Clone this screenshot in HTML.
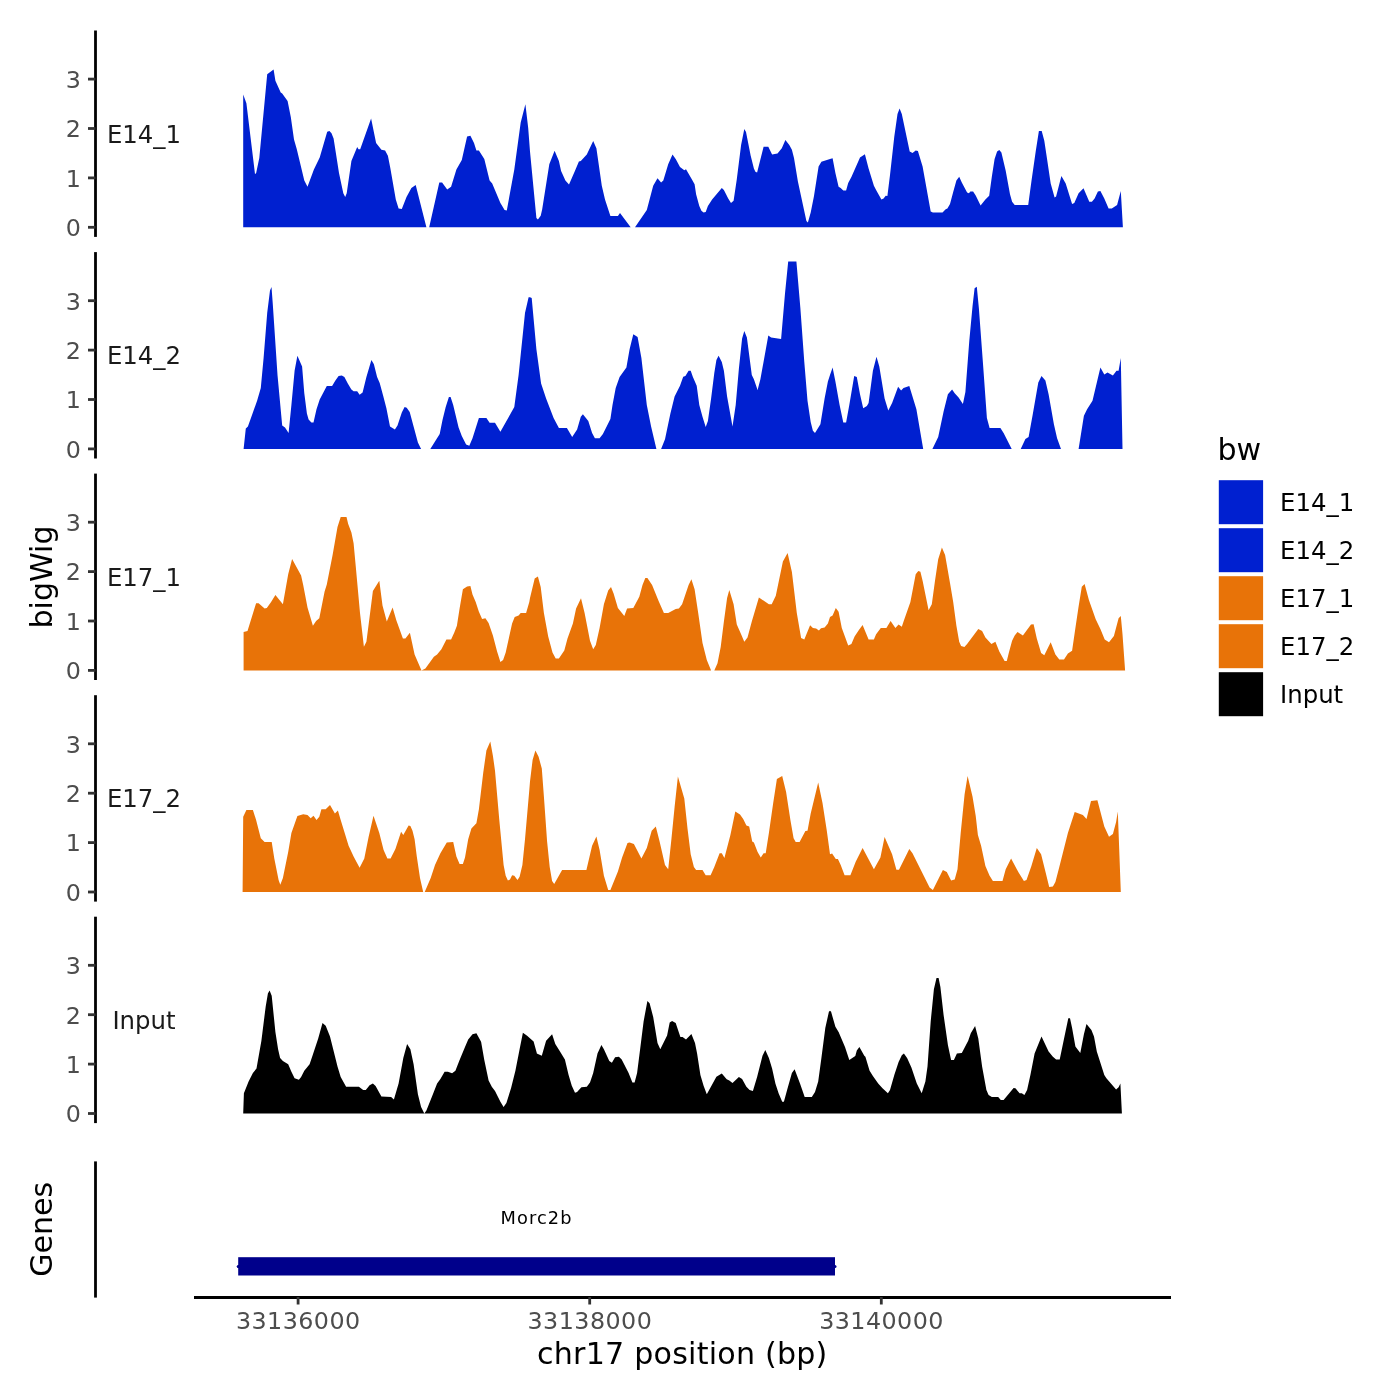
<!DOCTYPE html>
<html><head><meta charset="utf-8"><title>bigWig tracks</title>
<style>
html,body{margin:0;padding:0;background:#fff;}
svg{display:block;}
text{font-family:"DejaVu Sans","Liberation Sans",sans-serif;}
.tk{font-size:23.8px;fill:#4D4D4D;}
.lb{font-size:24.4px;fill:#1A1A1A;}
.lg{font-size:24.4px;fill:#000;}
.ti{font-size:30.1px;fill:#000;}
</style></head><body>
<svg width="1400" height="1400" viewBox="0 0 1400 1400">
<rect width="1400" height="1400" fill="#fff"/>

<path d="M243.2 227.3 L243.2 94.6 L246.4 103.2 L255.0 173.9 L256.1 173.3 L259.3 157.9 L267.2 74.3 L273.6 69.4 L275.4 80.7 L280.7 92.5 L282.2 93.6 L287.6 101.1 L290.8 117.1 L294.0 139.6 L296.8 149.3 L304.3 180.4 L307.5 186.8 L313.9 169.6 L319.7 157.4 L327.2 131.7 L329.4 130.9 L331.5 133.2 L333.6 138.6 L339.0 172.9 L343.3 193.2 L345.2 197.1 L346.7 193.2 L351.4 161.1 L357.2 147.1 L358.5 149.3 L360.2 149.3 L371.1 118.6 L376.1 142.9 L381.4 149.7 L385.1 150.4 L387.9 155.7 L390.4 168.6 L395.8 199.6 L398.6 208.6 L401.8 208.9 L406.5 197.1 L411.4 187.9 L415.7 185.1 L426.4 227.3 L429.2 227.3 L439.3 182.5 L442.1 182.5 L447.2 189.6 L451.1 186.8 L456.4 169.6 L461.8 160.0 L467.1 136.4 L470.4 135.8 L474.0 142.9 L476.4 150.4 L478.9 150.4 L484.3 158.9 L489.6 180.4 L492.2 183.6 L500.4 202.9 L504.6 209.9 L506.8 210.4 L514.3 169.6 L520.7 122.5 L525.4 104.3 L528.2 127.9 L530.0 151.4 L536.4 217.9 L537.9 219.6 L540.7 215.7 L542.2 209.3 L549.3 164.3 L554.6 150.8 L558.9 161.1 L561.1 171.1 L565.4 180.4 L569.0 184.6 L575.0 170.7 L578.9 161.5 L580.8 161.1 L586.8 154.6 L593.2 141.1 L596.4 148.2 L601.8 185.7 L605.0 199.6 L610.4 216.1 L617.9 216.1 L620.0 213.1 L630.7 227.3 L635.0 227.3 L646.8 209.9 L653.2 185.7 L657.5 178.2 L661.1 182.5 L663.3 180.4 L668.2 164.3 L672.5 154.6 L675.7 158.9 L680.0 166.9 L684.3 170.3 L686.0 169.2 L691.8 179.3 L694.6 184.2 L696.1 194.3 L699.3 206.1 L701.4 210.8 L703.6 212.5 L705.7 212.1 L707.9 206.1 L712.1 199.6 L721.8 187.9 L723.9 190.0 L728.2 198.6 L731.0 202.9 L733.6 200.7 L736.8 179.3 L741.1 145.0 L744.3 128.9 L746.0 132.1 L750.7 155.7 L753.9 168.6 L755.4 171.8 L757.1 172.4 L763.6 146.7 L768.3 146.7 L772.1 154.6 L777.5 153.6 L781.8 148.2 L785.4 140.1 L789.3 145.0 L791.9 149.7 L794.0 157.9 L797.9 181.4 L806.4 221.1 L807.9 222.6 L810.7 212.5 L813.9 196.4 L818.6 166.4 L821.4 161.7 L830.0 159.1 L832.6 158.3 L835.4 172.9 L838.6 186.8 L840.7 187.9 L843.3 190.6 L846.1 190.6 L848.2 183.1 L851.4 177.1 L860.0 157.4 L864.9 154.2 L868.6 168.6 L873.9 185.7 L876.1 190.0 L881.4 199.6 L883.6 198.6 L885.7 195.8 L887.4 196.0 L890.0 175.0 L894.3 136.4 L897.5 113.9 L899.6 108.6 L901.8 113.9 L909.7 151.4 L912.5 153.1 L915.7 150.4 L917.9 151.0 L922.6 166.4 L930.7 211.4 L932.9 212.5 L942.5 212.5 L945.7 209.3 L947.4 208.6 L950.0 203.9 L953.2 192.1 L956.4 180.4 L959.2 176.7 L961.8 182.5 L967.1 192.6 L968.9 193.2 L970.4 191.5 L973.1 191.5 L975.7 195.4 L980.6 205.4 L985.4 199.6 L989.2 195.8 L991.8 177.1 L994.6 158.9 L997.1 151.4 L999.3 149.9 L1001.4 152.5 L1005.7 170.7 L1010.0 194.3 L1012.1 201.8 L1014.7 205.0 L1028.2 205.0 L1031.4 181.4 L1035.7 151.4 L1038.9 131.1 L1041.7 131.1 L1044.3 140.7 L1047.5 162.1 L1050.7 183.6 L1054.6 197.5 L1056.1 196.4 L1061.4 176.1 L1065.7 183.6 L1072.1 203.9 L1074.3 202.9 L1078.6 193.2 L1083.5 188.3 L1089.3 201.8 L1091.9 201.8 L1094.6 198.6 L1097.9 191.5 L1100.4 191.1 L1104.3 198.6 L1108.6 208.6 L1111.8 208.6 L1117.1 205.0 L1120.8 191.1 L1122.9 227.3 Z" fill="#0020D0"/>
<line x1="95.5" x2="95.5" y1="30.5" y2="236.9" stroke="#000" stroke-width="2.8"/>
<line x1="88" x2="95.5" y1="227.3" y2="227.3" stroke="#333" stroke-width="2.8"/>
<text class="tk" x="81" y="236.1" text-anchor="end">0</text>
<line x1="88" x2="95.5" y1="177.9" y2="177.9" stroke="#333" stroke-width="2.8"/>
<text class="tk" x="81" y="186.7" text-anchor="end">1</text>
<line x1="88" x2="95.5" y1="128.5" y2="128.5" stroke="#333" stroke-width="2.8"/>
<text class="tk" x="81" y="137.3" text-anchor="end">2</text>
<line x1="88" x2="95.5" y1="79.1" y2="79.1" stroke="#333" stroke-width="2.8"/>
<text class="tk" x="81" y="87.9" text-anchor="end">3</text>
<text class="lb" x="144" y="142.7" text-anchor="middle">E14_1</text>
<path d="M243.6 448.9 L245.8 428.6 L247.9 426.4 L252.9 412.5 L257.1 400.7 L260.8 387.9 L263.6 357.9 L267.2 312.9 L270.0 290.4 L271.5 287.1 L272.8 304.3 L277.5 375.0 L282.2 425.4 L285.0 427.5 L288.6 432.9 L291.4 405.0 L294.6 370.7 L297.4 355.7 L302.1 366.4 L304.3 393.2 L306.9 413.6 L308.6 419.6 L311.4 422.6 L313.5 422.6 L316.5 409.3 L319.7 399.6 L326.8 386.1 L332.1 386.1 L335.4 380.4 L338.6 376.1 L341.8 375.6 L344.4 377.1 L347.8 383.6 L351.4 389.4 L353.6 391.3 L357.2 391.3 L359.6 394.7 L362.6 392.6 L366.4 377.1 L371.4 360.0 L373.9 364.3 L377.1 377.1 L379.7 383.1 L383.1 395.4 L386.4 408.2 L390.0 426.4 L394.9 429.6 L397.5 425.4 L401.8 412.5 L404.6 407.1 L406.7 407.8 L409.7 411.9 L413.6 426.4 L417.9 442.5 L421.1 448.9 L430.3 448.9 L439.7 433.9 L442.5 420.0 L445.7 407.1 L448.9 396.9 L450.6 396.9 L453.2 405.0 L458.6 427.5 L461.8 436.1 L466.1 444.6 L469.3 445.7 L472.5 438.2 L478.9 417.9 L486.4 417.9 L489.6 422.8 L495.0 422.8 L500.4 431.8 L514.3 407.1 L518.6 375.0 L525.0 312.9 L528.6 297.2 L530.0 297.2 L531.7 297.9 L536.4 349.3 L541.1 383.6 L546.1 398.6 L553.6 417.9 L558.9 428.1 L566.9 428.1 L572.2 437.1 L577.1 429.6 L580.8 416.8 L582.9 414.2 L588.3 421.1 L592.1 432.9 L594.9 438.2 L599.6 438.2 L602.9 433.9 L610.4 418.9 L612.5 405.0 L615.7 387.9 L619.6 377.1 L626.4 367.5 L629.6 349.3 L633.3 334.3 L637.6 337.1 L641.4 357.9 L646.8 405.0 L651.1 426.4 L656.4 448.9 L661.1 448.9 L665.0 439.3 L670.4 413.6 L674.6 396.4 L680.0 385.7 L683.2 376.7 L685.4 376.1 L688.6 370.7 L690.7 370.7 L692.9 377.1 L696.7 385.7 L699.3 405.0 L702.5 416.8 L705.7 427.1 L707.9 421.1 L711.1 398.6 L714.3 372.9 L716.4 360.0 L718.6 355.7 L721.8 362.1 L723.9 370.7 L727.1 396.4 L732.5 426.4 L735.7 405.0 L738.9 368.6 L742.1 338.6 L744.3 331.1 L746.9 337.5 L751.8 375.0 L753.9 379.3 L757.6 390.0 L760.4 379.3 L768.3 335.4 L771.1 337.5 L781.1 339.0 L785.0 293.6 L788.2 261.4 L796.4 261.4 L800.4 308.6 L804.3 362.1 L807.5 400.7 L810.7 422.1 L812.9 430.7 L815.0 432.9 L820.4 424.3 L824.6 398.6 L827.9 381.4 L830.0 375.0 L832.6 367.5 L835.4 381.4 L839.6 405.0 L843.3 422.6 L846.1 422.6 L849.3 405.0 L854.2 376.1 L856.8 377.1 L860.0 394.3 L863.2 408.2 L866.9 406.1 L868.6 402.9 L872.9 370.7 L876.5 356.8 L879.3 366.4 L884.6 398.6 L888.3 410.4 L892.1 402.9 L898.1 386.8 L901.1 390.4 L903.5 387.9 L909.3 386.1 L912.5 396.4 L916.4 409.3 L923.2 448.9 L932.4 448.9 L938.2 437.1 L943.6 411.4 L947.9 394.3 L952.1 389.4 L954.7 393.2 L958.6 397.5 L962.9 403.9 L965.4 392.1 L969.3 340.7 L972.5 306.4 L974.6 288.2 L976.8 286.7 L978.9 308.6 L983.2 366.4 L986.9 417.9 L989.6 428.1 L1000.4 428.1 L1003.6 432.9 L1011.7 448.9 L1020.7 448.9 L1025.4 438.9 L1028.6 437.1 L1032.5 415.7 L1038.3 382.5 L1041.5 376.1 L1045.4 380.4 L1048.6 394.3 L1053.9 424.3 L1057.1 438.2 L1061.0 448.9 L1078.6 448.9 L1083.9 415.7 L1087.1 409.3 L1092.5 400.7 L1100.4 367.5 L1104.3 374.6 L1107.5 372.4 L1112.9 375.6 L1116.5 370.7 L1118.6 370.7 L1120.8 357.9 L1122.5 448.9 Z" fill="#0020D0"/>
<line x1="95.5" x2="95.5" y1="252.1" y2="458.5" stroke="#000" stroke-width="2.8"/>
<line x1="88" x2="95.5" y1="448.9" y2="448.9" stroke="#333" stroke-width="2.8"/>
<text class="tk" x="81" y="457.7" text-anchor="end">0</text>
<line x1="88" x2="95.5" y1="399.5" y2="399.5" stroke="#333" stroke-width="2.8"/>
<text class="tk" x="81" y="408.3" text-anchor="end">1</text>
<line x1="88" x2="95.5" y1="350.1" y2="350.1" stroke="#333" stroke-width="2.8"/>
<text class="tk" x="81" y="358.9" text-anchor="end">2</text>
<line x1="88" x2="95.5" y1="300.7" y2="300.7" stroke="#333" stroke-width="2.8"/>
<text class="tk" x="81" y="309.5" text-anchor="end">3</text>
<text class="lb" x="144" y="364.2" text-anchor="middle">E14_2</text>
<path d="M243.6 670.4 L243.6 632.1 L247.5 631.1 L256.1 603.2 L258.6 603.2 L264.6 608.6 L266.8 608.1 L271.1 602.1 L275.4 595.1 L282.9 604.3 L288.2 574.3 L292.1 558.9 L301.1 575.4 L303.2 585.0 L307.5 607.5 L312.9 625.7 L316.1 621.0 L319.3 618.2 L324.6 591.4 L326.8 584.4 L332.6 555.0 L337.5 527.1 L340.7 516.9 L346.5 516.9 L348.2 523.9 L351.4 532.5 L353.6 543.2 L355.7 565.7 L360.0 612.9 L363.9 646.7 L366.4 641.8 L369.6 617.1 L372.9 591.0 L379.3 580.7 L382.5 605.4 L386.8 621.4 L392.6 607.5 L396.4 620.4 L402.9 638.6 L405.4 638.6 L409.9 632.8 L414.6 654.6 L421.5 670.4 L425.4 668.6 L433.9 656.8 L437.1 654.6 L441.4 649.3 L446.4 639.6 L451.1 639.6 L454.3 632.6 L456.9 625.7 L459.6 608.6 L462.9 589.3 L467.1 586.5 L470.4 586.1 L472.5 594.6 L475.7 602.1 L478.9 611.8 L482.1 618.9 L485.4 618.2 L488.6 623.1 L492.9 635.4 L497.1 651.4 L500.4 662.1 L503.1 660.0 L505.7 652.5 L512.1 623.6 L514.7 617.1 L518.6 615.6 L520.7 612.9 L526.1 612.9 L529.3 602.1 L530.0 597.9 L534.7 578.6 L537.9 576.4 L540.7 587.1 L543.9 612.9 L548.2 636.4 L552.5 652.5 L555.7 658.5 L558.9 658.5 L564.3 650.4 L567.5 638.6 L572.9 623.6 L576.1 608.6 L581.0 598.3 L584.6 612.9 L590.0 640.7 L593.2 649.3 L595.8 645.0 L599.6 627.9 L603.9 604.3 L608.2 590.4 L611.0 587.1 L613.6 593.6 L617.9 608.1 L624.3 616.1 L627.1 608.6 L633.3 608.1 L639.3 596.8 L642.5 585.0 L645.3 578.1 L647.4 578.1 L652.1 585.0 L658.6 601.1 L663.9 612.9 L668.2 612.9 L675.7 609.0 L678.9 608.6 L682.1 604.3 L688.6 585.0 L691.4 579.2 L694.6 589.3 L698.2 612.9 L702.5 642.9 L706.8 660.0 L711.1 670.4 L714.3 670.4 L717.5 663.2 L720.7 647.1 L723.9 621.4 L727.1 597.9 L729.3 589.9 L733.6 604.3 L736.8 624.6 L741.1 634.3 L744.3 641.8 L747.5 637.5 L751.8 621.4 L758.9 597.4 L768.9 604.3 L771.7 604.3 L775.8 595.7 L782.9 561.4 L787.6 552.9 L791.9 572.1 L796.8 612.9 L801.1 638.1 L804.3 639.6 L810.1 625.3 L812.9 627.9 L816.1 628.5 L818.9 630.6 L821.0 628.3 L824.6 627.4 L827.9 623.6 L830.0 617.1 L832.6 615.6 L835.8 608.1 L838.6 611.8 L841.8 627.9 L848.2 645.4 L851.4 643.9 L854.6 636.4 L858.9 630.0 L862.6 625.1 L868.6 639.6 L873.9 639.6 L876.1 634.3 L880.8 627.9 L886.4 627.9 L890.6 621.0 L895.4 627.9 L898.6 624.6 L901.8 626.8 L903.9 620.4 L910.4 602.1 L915.7 574.3 L918.3 571.1 L920.4 571.7 L922.6 580.7 L928.6 610.3 L931.8 604.3 L935.0 580.7 L938.2 559.3 L941.9 547.5 L945.1 555.0 L950.0 582.9 L953.2 602.1 L956.4 625.7 L959.2 641.8 L961.1 646.1 L964.4 647.1 L967.1 643.9 L978.3 628.9 L982.1 631.1 L985.4 637.5 L991.4 643.9 L995.4 641.8 L999.3 651.4 L1004.6 661.1 L1006.8 661.1 L1008.9 652.5 L1012.1 640.7 L1014.7 635.4 L1017.5 632.1 L1022.9 635.4 L1031.0 624.6 L1033.6 624.2 L1036.8 638.6 L1041.1 653.1 L1044.3 655.3 L1050.7 642.2 L1055.4 654.6 L1059.3 659.4 L1064.0 659.4 L1067.9 653.6 L1072.1 650.8 L1075.4 627.9 L1078.6 606.4 L1081.8 586.7 L1084.6 583.9 L1088.9 600.0 L1095.7 619.3 L1100.4 628.9 L1104.7 639.6 L1109.0 642.2 L1113.9 636.0 L1118.6 618.2 L1120.8 616.1 L1122.5 634.3 L1125.1 670.4 Z" fill="#E87308"/>
<line x1="95.5" x2="95.5" y1="473.6" y2="680.0" stroke="#000" stroke-width="2.8"/>
<line x1="88" x2="95.5" y1="670.4" y2="670.4" stroke="#333" stroke-width="2.8"/>
<text class="tk" x="81" y="679.2" text-anchor="end">0</text>
<line x1="88" x2="95.5" y1="621.0" y2="621.0" stroke="#333" stroke-width="2.8"/>
<text class="tk" x="81" y="629.8" text-anchor="end">1</text>
<line x1="88" x2="95.5" y1="571.6" y2="571.6" stroke="#333" stroke-width="2.8"/>
<text class="tk" x="81" y="580.4" text-anchor="end">2</text>
<line x1="88" x2="95.5" y1="522.2" y2="522.2" stroke="#333" stroke-width="2.8"/>
<text class="tk" x="81" y="531.0" text-anchor="end">3</text>
<text class="lb" x="144" y="585.8" text-anchor="middle">E17_1</text>
<path d="M242.6 892.0 L243.2 816.8 L246.4 809.9 L252.9 809.9 L256.1 820.0 L260.8 838.2 L264.6 841.9 L271.7 842.1 L274.3 858.6 L278.6 880.0 L280.3 884.7 L282.9 877.9 L288.2 852.1 L291.4 832.9 L297.4 816.1 L303.2 814.2 L307.5 815.1 L310.7 818.3 L313.5 815.7 L316.5 820.0 L319.3 816.8 L321.4 809.3 L325.7 809.3 L330.0 805.0 L334.9 813.6 L337.9 810.4 L340.7 820.0 L345.0 833.9 L348.6 845.7 L353.6 856.4 L359.6 867.8 L364.3 858.6 L368.6 837.1 L373.5 815.7 L379.3 832.9 L383.6 850.0 L387.4 858.6 L390.6 858.6 L395.4 848.9 L401.1 831.8 L403.3 835.0 L408.6 825.4 L410.4 826.0 L412.5 830.7 L414.6 839.3 L416.8 856.4 L420.0 877.9 L423.2 892.0 L424.7 892.0 L430.7 877.9 L435.0 865.0 L440.4 853.2 L446.8 842.5 L453.2 842.1 L456.4 856.4 L459.6 863.9 L462.9 863.9 L465.0 857.5 L468.2 839.3 L471.4 828.6 L476.4 823.2 L478.9 809.3 L483.2 772.9 L486.4 750.4 L490.3 741.4 L492.9 755.7 L495.0 770.7 L499.3 820.0 L503.6 865.0 L505.7 875.7 L507.9 880.6 L510.0 879.6 L512.1 875.3 L514.3 875.7 L517.5 880.0 L519.6 876.8 L522.4 865.0 L525.0 839.3 L529.3 790.0 L530.0 781.4 L532.6 760.0 L535.4 750.4 L538.6 756.8 L541.8 768.6 L543.9 796.4 L547.1 841.4 L549.7 867.1 L552.1 881.1 L554.2 883.9 L562.1 869.9 L586.4 869.9 L592.1 845.7 L596.4 836.5 L599.6 850.0 L603.9 875.7 L608.2 890.1 L610.4 890.1 L617.9 871.4 L622.1 857.5 L627.5 843.1 L629.6 842.5 L633.9 844.0 L641.4 858.6 L646.8 847.9 L651.7 830.7 L655.8 826.4 L659.6 841.4 L665.0 865.0 L668.2 869.3 L671.4 839.3 L674.6 807.1 L677.9 776.5 L684.3 798.6 L687.5 828.6 L690.7 854.3 L693.9 867.1 L696.1 869.9 L702.5 869.9 L705.7 875.3 L710.6 875.3 L714.3 867.1 L719.6 853.2 L721.8 853.2 L724.4 857.9 L730.4 835.0 L735.3 811.4 L740.0 814.6 L743.2 818.9 L746.4 825.4 L749.2 826.4 L752.2 841.4 L753.9 842.5 L757.6 852.1 L760.8 857.5 L763.6 853.2 L765.7 853.2 L768.9 832.9 L773.2 802.9 L776.9 778.9 L782.2 776.1 L786.1 792.1 L790.4 820.0 L793.6 838.2 L795.7 841.9 L799.6 841.9 L805.4 831.1 L807.5 830.7 L810.7 813.6 L818.2 782.5 L822.5 802.9 L826.8 830.7 L830.0 854.3 L832.1 853.6 L835.8 859.0 L837.9 859.0 L840.7 865.0 L844.6 875.3 L850.4 875.3 L855.7 861.8 L862.6 847.9 L873.9 869.3 L880.4 857.5 L884.6 837.1 L892.1 854.3 L896.4 869.7 L899.0 869.7 L909.3 848.9 L912.5 853.2 L929.6 887.5 L932.9 890.1 L942.9 869.9 L946.8 872.1 L951.1 880.4 L954.7 879.6 L957.5 869.3 L960.7 832.9 L964.6 794.3 L967.6 776.1 L972.5 796.4 L975.7 815.7 L977.9 835.0 L981.1 845.7 L985.4 866.1 L989.6 875.7 L992.9 881.1 L1002.5 881.1 L1005.7 869.3 L1011.1 858.6 L1018.6 872.5 L1023.9 881.1 L1026.5 880.0 L1031.4 866.1 L1036.8 847.9 L1041.1 854.3 L1045.4 871.4 L1049.2 887.1 L1052.9 886.4 L1055.4 882.1 L1059.3 867.1 L1067.9 832.9 L1074.7 811.9 L1082.9 815.1 L1086.5 818.9 L1091.0 801.1 L1097.4 800.3 L1104.3 826.4 L1109.0 836.7 L1112.9 833.9 L1116.1 822.1 L1117.8 811.4 L1120.8 892.0 Z" fill="#E87308"/>
<line x1="95.5" x2="95.5" y1="695.2" y2="901.6" stroke="#000" stroke-width="2.8"/>
<line x1="88" x2="95.5" y1="892.0" y2="892.0" stroke="#333" stroke-width="2.8"/>
<text class="tk" x="81" y="900.8" text-anchor="end">0</text>
<line x1="88" x2="95.5" y1="842.6" y2="842.6" stroke="#333" stroke-width="2.8"/>
<text class="tk" x="81" y="851.4" text-anchor="end">1</text>
<line x1="88" x2="95.5" y1="793.2" y2="793.2" stroke="#333" stroke-width="2.8"/>
<text class="tk" x="81" y="802.0" text-anchor="end">2</text>
<line x1="88" x2="95.5" y1="743.8" y2="743.8" stroke="#333" stroke-width="2.8"/>
<text class="tk" x="81" y="752.5" text-anchor="end">3</text>
<text class="lb" x="144" y="807.4" text-anchor="middle">E17_2</text>
<path d="M243.2 1113.5 L243.9 1093.2 L248.6 1081.4 L252.9 1072.9 L256.5 1068.6 L261.4 1040.7 L265.7 1006.4 L267.9 993.6 L269.6 990.4 L271.7 995.7 L275.4 1032.1 L278.1 1049.3 L280.1 1057.9 L282.9 1061.1 L288.2 1064.3 L291.4 1071.8 L294.6 1078.2 L298.9 1079.7 L301.1 1077.1 L304.3 1070.7 L309.6 1064.3 L312.9 1054.6 L318.2 1038.6 L322.5 1023.1 L325.7 1025.7 L330.0 1036.4 L333.2 1049.3 L337.5 1066.4 L340.7 1077.1 L346.1 1086.8 L358.9 1086.8 L363.2 1090.0 L365.8 1090.0 L369.6 1085.3 L372.9 1083.6 L375.6 1086.1 L381.4 1096.4 L391.1 1096.9 L393.9 1099.6 L398.6 1083.6 L403.3 1057.9 L407.1 1043.9 L410.4 1049.3 L413.6 1064.3 L417.9 1094.3 L421.1 1107.1 L424.3 1113.5 L426.4 1110.4 L432.9 1094.3 L437.1 1083.6 L440.4 1078.9 L444.6 1071.8 L447.9 1071.8 L452.1 1073.3 L455.4 1070.7 L459.6 1060.0 L465.0 1047.1 L468.2 1039.6 L472.5 1034.3 L476.4 1033.2 L481.1 1041.8 L484.3 1060.0 L488.6 1080.4 L491.8 1086.8 L495.0 1091.1 L500.4 1101.8 L503.6 1107.1 L506.4 1102.9 L511.1 1087.9 L515.4 1070.7 L519.6 1049.3 L522.9 1032.8 L527.1 1035.8 L533.6 1041.4 L536.8 1053.1 L536.8 1038.6 L536.8 1041.8 L536.8 1053.6 L541.8 1055.7 L546.1 1040.7 L552.1 1034.3 L555.3 1043.9 L560.0 1051.4 L564.9 1059.6 L568.6 1075.0 L571.8 1085.7 L575.0 1092.8 L577.1 1092.1 L581.4 1087.2 L586.8 1086.8 L590.0 1082.5 L593.2 1072.9 L597.5 1053.6 L601.4 1045.0 L603.9 1049.3 L609.3 1061.1 L611.9 1062.8 L615.1 1057.2 L618.9 1056.8 L621.7 1059.6 L628.6 1072.9 L632.4 1082.5 L634.6 1082.5 L637.1 1072.9 L640.4 1047.1 L643.6 1021.4 L647.4 1001.1 L649.6 1003.2 L653.2 1017.1 L657.5 1042.9 L660.3 1049.3 L667.1 1035.4 L669.7 1022.5 L672.1 1021.0 L675.7 1023.1 L680.4 1036.9 L682.6 1036.9 L686.0 1039.6 L691.4 1033.9 L695.0 1042.9 L697.1 1053.6 L700.4 1075.0 L703.6 1085.7 L706.8 1094.3 L716.4 1076.7 L721.8 1073.5 L726.7 1079.3 L729.3 1080.4 L732.5 1083.1 L738.9 1077.1 L742.1 1078.9 L746.4 1086.8 L749.6 1090.0 L752.9 1091.1 L757.1 1077.1 L762.5 1055.7 L765.3 1049.9 L768.9 1057.9 L772.1 1068.6 L775.4 1083.6 L778.6 1093.2 L782.2 1101.8 L783.9 1101.8 L787.1 1090.0 L791.9 1072.9 L794.6 1069.2 L800.0 1083.6 L804.7 1096.9 L811.8 1096.9 L815.0 1092.1 L818.2 1081.4 L821.4 1057.9 L825.3 1027.9 L828.9 1011.8 L830.0 1010.7 L831.1 1011.8 L835.4 1026.8 L838.6 1032.1 L845.0 1047.1 L849.3 1060.0 L855.3 1056.1 L856.8 1050.4 L859.4 1047.1 L864.3 1055.7 L865.4 1056.8 L869.6 1070.7 L872.9 1076.1 L878.2 1083.6 L882.5 1088.3 L887.9 1093.2 L890.0 1090.0 L894.3 1075.0 L898.6 1062.1 L901.8 1055.3 L903.9 1053.6 L907.1 1057.9 L911.4 1067.5 L916.8 1083.6 L921.7 1093.2 L925.4 1081.4 L927.5 1066.4 L930.7 1021.4 L933.9 989.3 L936.5 978.1 L938.6 978.1 L940.4 987.1 L943.6 1015.0 L947.9 1045.0 L951.1 1060.0 L953.9 1060.0 L956.9 1053.6 L961.8 1053.1 L968.2 1040.7 L970.8 1033.2 L975.1 1026.1 L978.3 1038.6 L982.1 1066.4 L986.4 1090.0 L988.6 1094.9 L991.8 1096.9 L998.2 1096.9 L1000.8 1100.1 L1003.6 1100.1 L1013.6 1087.9 L1015.4 1088.3 L1019.6 1093.2 L1021.8 1093.2 L1024.4 1094.9 L1027.1 1090.0 L1030.4 1075.0 L1034.6 1053.6 L1041.5 1036.4 L1048.6 1051.4 L1052.9 1056.8 L1056.1 1059.6 L1059.7 1059.6 L1063.6 1040.7 L1068.3 1018.2 L1070.0 1018.2 L1072.1 1027.9 L1075.4 1046.5 L1080.3 1052.9 L1083.9 1034.3 L1086.5 1024.0 L1091.4 1030.0 L1094.0 1036.4 L1096.8 1051.4 L1104.3 1075.0 L1106.4 1078.2 L1116.1 1089.6 L1118.6 1087.2 L1120.4 1083.6 L1121.9 1113.5 Z" fill="#000000"/>
<line x1="95.5" x2="95.5" y1="916.7" y2="1123.1" stroke="#000" stroke-width="2.8"/>
<line x1="88" x2="95.5" y1="1113.5" y2="1113.5" stroke="#333" stroke-width="2.8"/>
<text class="tk" x="81" y="1122.3" text-anchor="end">0</text>
<line x1="88" x2="95.5" y1="1064.1" y2="1064.1" stroke="#333" stroke-width="2.8"/>
<text class="tk" x="81" y="1072.9" text-anchor="end">1</text>
<line x1="88" x2="95.5" y1="1014.7" y2="1014.7" stroke="#333" stroke-width="2.8"/>
<text class="tk" x="81" y="1023.5" text-anchor="end">2</text>
<line x1="88" x2="95.5" y1="965.3" y2="965.3" stroke="#333" stroke-width="2.8"/>
<text class="tk" x="81" y="974.1" text-anchor="end">3</text>
<text class="lb" x="144" y="1028.9" text-anchor="middle">Input</text>
<text class="ti" transform="translate(51.9,577) rotate(-90)" text-anchor="middle">bigWig</text>
<text class="ti" transform="translate(52.0,1229.3) rotate(-90)" text-anchor="middle">Genes</text>
<line x1="95.5" x2="95.5" y1="1161.4" y2="1297.6" stroke="#000" stroke-width="2.8"/>
<line x1="194" x2="1171" y1="1297.5" y2="1297.5" stroke="#000" stroke-width="2.8"/>
<line x1="298.1" x2="298.1" y1="1297" y2="1304.5" stroke="#333" stroke-width="2.8"/>
<text class="tk" x="298.3" y="1328.5" text-anchor="middle" style="letter-spacing:0.45px">33136000</text>
<line x1="589.7" x2="589.7" y1="1297" y2="1304.5" stroke="#333" stroke-width="2.8"/>
<text class="tk" x="589.9" y="1328.5" text-anchor="middle" style="letter-spacing:0.45px">33138000</text>
<line x1="881.3" x2="881.3" y1="1297" y2="1304.5" stroke="#333" stroke-width="2.8"/>
<text class="tk" x="881.5" y="1328.5" text-anchor="middle" style="letter-spacing:0.45px">33140000</text>
<text class="ti" x="682.3" y="1363.8" text-anchor="middle" style="letter-spacing:0.22px">chr17 position (bp)</text>
<line x1="238.2" x2="835" y1="1266.4" y2="1266.4" stroke="#00008B" stroke-width="3" stroke-linecap="round"/>
<rect x="238.2" y="1257.2" width="596.8" height="18.3" fill="#00008B"/>
<text x="536.6" y="1223.8" text-anchor="middle" style="font-size:17.8px;fill:#000;letter-spacing:1.1px">Morc2b</text>
<text class="ti" x="1217.5" y="459.8">bw</text>
<rect x="1218.8" y="480.2" width="44.3" height="44" fill="#0020D0"/>
<text class="lg" x="1280" y="510.8">E14_1</text>
<rect x="1218.8" y="528.2" width="44.3" height="44" fill="#0020D0"/>
<text class="lg" x="1280" y="558.8">E14_2</text>
<rect x="1218.8" y="576.2" width="44.3" height="44" fill="#E87308"/>
<text class="lg" x="1280" y="606.8">E17_1</text>
<rect x="1218.8" y="624.2" width="44.3" height="44" fill="#E87308"/>
<text class="lg" x="1280" y="654.8">E17_2</text>
<rect x="1218.8" y="672.2" width="44.3" height="44" fill="#000000"/>
<text class="lg" x="1280" y="702.8">Input</text>
</svg></body></html>
